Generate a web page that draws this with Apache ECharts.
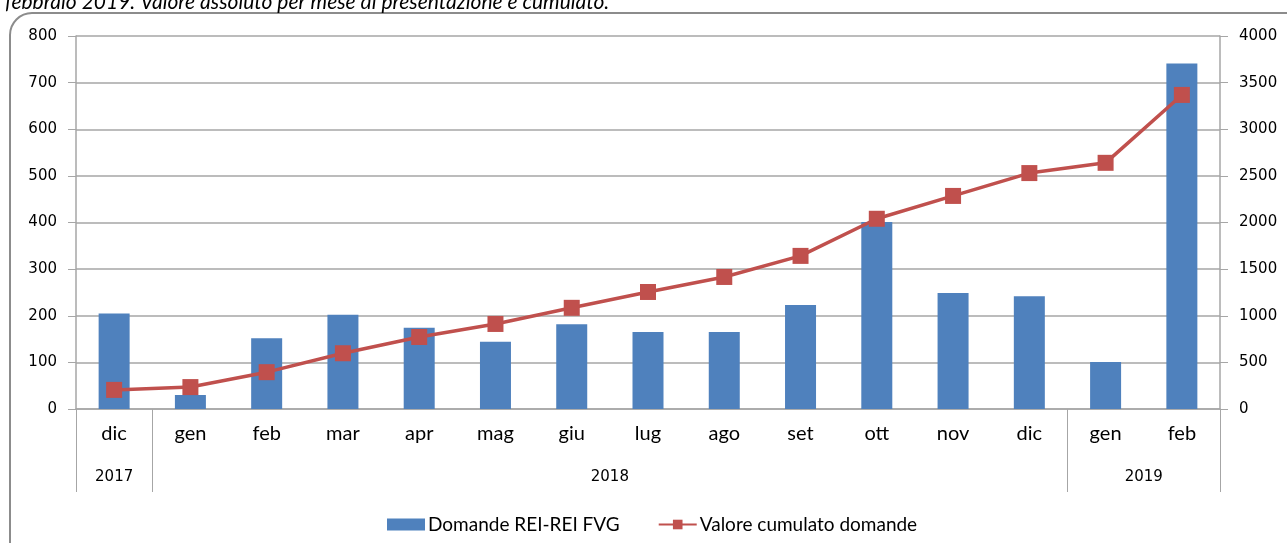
<!DOCTYPE html>
<html>
<head>
<meta charset="utf-8">
<style>
  html, body { margin: 0; padding: 0; background: #fff; }
  #main { width: 1287px; height: 543px; }
</style>
<script src="https://cdn.jsdelivr.net/npm/echarts@6/dist/echarts.min.js"></script>
</head>
<body>
<div id="main"></div>
<script>
// mesi di presentazione
var months = ['dic', 'gen', 'feb', 'mar', 'apr', 'mag', 'giu', 'lug', 'ago', 'set', 'ott', 'nov', 'dic', 'gen', 'feb'];
var domande = [205, 30, 152, 202, 174, 144, 182, 165, 165, 223, 401, 249, 242, 101, 741];
var cumulato = [205, 235, 395, 598, 772, 912, 1085, 1255, 1416, 1642, 2040, 2285, 2530, 2640, 3368];
// anni: separatori (indice mese) e posizione etichette
var yearBounds = [0, 1, 13, 15];
var yearPos = [0.5, 7, 14];
var yearNames = ['2017', '2018', '2019'];
var leftTicks = [0, 800, 100];
var rightTicks = [0, 4000, 500];

var gray = '#a6a6a6';
var myChart = echarts.init(document.getElementById('main'));

var option = {
    animation: false,
    graphic: [
        {
            type: 'rect',
            shape: { x: 10, y: 13, width: 1300, height: 580, r: 22 },
            style: { fill: 'none', stroke: '#8c8c8c', lineWidth: 2 },
            silent: true
        },
        {
            type: 'text',
            left: 5,
            top: -8,
            style: {
                text: 'febbraio 2019. Valore assoluto per mese di presentazione e cumulato.',
                fontFamily: 'Lato',
                fontStyle: 'italic',
                fontSize: 21,
                fill: '#000'
            }
        }
    ],
    grid: { left: 76, right: 67, top: 36, bottom: 134 },
    legend: {
        left: 382,
        top: 510,
        itemGap: 38,
        itemWidth: 38,
        itemHeight: 12,
        textStyle: { fontFamily: 'Lato', fontSize: 19, color: '#000', padding: [0, 0, 0, -2] },
        data: [
            { name: 'Domande REI-REI FVG', icon: 'rect' },
            { name: 'Valore cumulato domande' }
        ]
    },
    xAxis: [
        {
            type: 'category',
            data: months,
            axisLine: { lineStyle: { color: gray, width: 1.5 } },
            axisTick: { interval: 0, length: 40, lineStyle: { color: gray } },
            axisLabel: { interval: 0, margin: 15, fontFamily: 'Lato', fontSize: 20, color: '#000' }
        },
        {
            type: 'value',
            position: 'bottom',
            min: 0,
            max: 15,
            axisLine: { show: false },
            splitLine: { show: false },
            axisTick: { show: true, customValues: yearBounds, length: 83, lineStyle: { color: gray } },
            axisLabel: {
                customValues: yearPos,
                margin: 61,
                fontFamily: 'DejaVu Sans',
                fontSize: 15,
                color: '#000',
                formatter: function (v) {
                    var i = yearPos.indexOf(v);
                    return i >= 0 ? yearNames[i] : '';
                }
            }
        }
    ],
    yAxis: [
        {
            type: 'value',
            min: leftTicks[0],
            max: leftTicks[1],
            interval: leftTicks[2],
            axisLine: { show: true, lineStyle: { color: gray, width: 1.5 } },
            axisTick: { show: true, length: 8, lineStyle: { color: gray } },
            splitLine: { lineStyle: { color: gray, width: 1.5 } },
            axisLabel: { margin: 19, fontFamily: 'DejaVu Sans', fontSize: 15, color: '#000' }
        },
        {
            type: 'value',
            min: rightTicks[0],
            max: rightTicks[1],
            interval: rightTicks[2],
            axisLine: { show: true, lineStyle: { color: gray, width: 1.5 } },
            axisTick: { show: true, length: 8, lineStyle: { color: gray } },
            splitLine: { show: false },
            axisLabel: {
                margin: 19, fontFamily: 'DejaVu Sans', fontSize: 15, color: '#000',
                formatter: function (v) { return String(v); }
            }
        }
    ],
    series: [
        {
            name: 'Domande REI-REI FVG',
            type: 'bar',
            data: domande,
            barWidth: 31,
            itemStyle: { color: '#4f81bd' }
        },
        {
            name: 'Valore cumulato domande',
            type: 'line',
            yAxisIndex: 1,
            data: cumulato,
            symbol: 'rect',
            symbolSize: 16,
            lineStyle: { color: '#c0504d', width: 3.5 },
            itemStyle: { color: '#c0504d' }
        }
    ]
};
myChart.setOption(option);
</script>
</body>
</html>
